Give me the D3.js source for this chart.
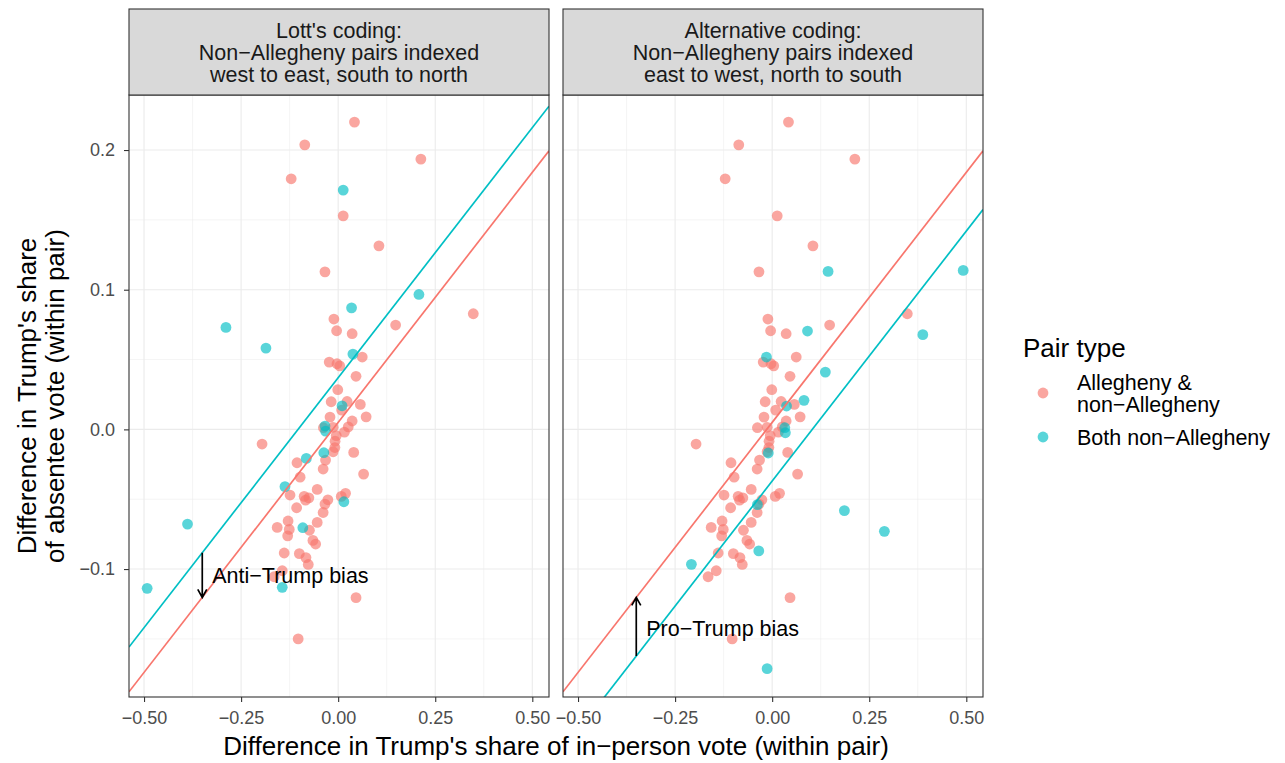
<!DOCTYPE html>
<html>
<head>
<meta charset="utf-8">
<script src="https://cdn.jsdelivr.net/npm/d3@7"></script>
<style>
  body { margin: 0; background: #fff; }
  svg { font-family: "Liberation Sans", Arial, sans-serif; }
</style>
</head>
<body>
<div id="chart"></div>
<script>
// Allegheny & non-Allegheny pairs (same in both codings)
var redX = [0.042, -0.086, 0.213, -0.121, 0.013, 0.105, -0.034, 0.348, -0.011, 0.148,
  -0.004, 0.036, 0.062, -0.023, -0.003, 0.004, 0.046, -0.001, -0.018, 0.023,
  0.057, 0.009, 0.072, -0.021, 0.036, 0.026, -0.013, -0.038, 0.016, -0.005,
  -0.008, -0.0085, -0.013, -0.196, 0.040, -0.0325, -0.106, -0.0387, 0.0655, -0.098,
  -0.054, -0.124, 0.019, 0.008, -0.0876, -0.0755, -0.084, -0.0265, -0.034, -0.107,
  -0.0387, -0.129, -0.054, -0.157, -0.126, -0.074, -0.130, -0.065, -0.058, -0.139,
  -0.100, -0.083, -0.077, -0.144, -0.165, 0.046, -0.103];
var redY = [0.220, 0.2037, 0.1935, 0.1794, 0.1529, 0.1314, 0.1128, 0.0828, 0.079, 0.0747,
  0.0706, 0.0685, 0.0518, 0.0482, 0.047, 0.0455, 0.038, 0.0284, 0.0198, 0.0200,
  0.0179, 0.0138, 0.009, 0.0088, 0.006, 0.0018, 0.0015, 0.0012, -0.002, -0.0045,
  -0.0085, -0.0130, -0.0160, -0.0105, -0.0165, -0.022, -0.0239, -0.0284, -0.032, -0.0342,
  -0.043, -0.047, -0.0458, -0.048, -0.048, -0.049, -0.0506, -0.0504, -0.0535, -0.0561,
  -0.0595, -0.0656, -0.0666, -0.0702, -0.0716, -0.0722, -0.0762, -0.0795, -0.0821, -0.0885,
  -0.089, -0.0918, -0.0967, -0.1012, -0.1055, -0.1205, -0.150];

// Both non-Allegheny pairs, Lott's coding (alternative coding flips the sign)
var cyanX = [0.013, 0.208, 0.0345, -0.289, -0.186, 0.038, 0.010, -0.034, -0.0325, -0.037,
  -0.082, -0.137, 0.0147, -0.091, -0.388, -0.144, -0.492];
var cyanY = [0.1713, 0.0966, 0.087, 0.073, 0.0582, 0.0539, 0.0169, 0.0024, -0.0012, -0.0167,
  -0.0208, -0.041, -0.0518, -0.0704, -0.0678, -0.1131, -0.1138];

var panelTitles = [
  ["Lott's coding:", "Non\u2212Allegheny pairs indexed", "west to east, south to north"],
  ["Alternative coding:", "Non\u2212Allegheny pairs indexed", "east to west, north to south"]
];
var fitSlope = 0.358;
var redIntercept = [0.005, 0.005];
var cyanIntercept = [0.037, -0.037];
var biasLabels = ["Anti\u2212Trump bias", "Pro\u2212Trump bias"];
var arrowAt = -0.35;

var xTicks = [-0.5, -0.25, 0, 0.25, 0.5];
var yTicks = [-0.1, 0, 0.1, 0.2];
var legendLabels = [["Allegheny &", "non\u2212Allegheny"], ["Both non\u2212Allegheny"]];

var red = "#F8766D", cyan = "#00BFC4";
var width = 1285, height = 763;
var panelTop = 95, panelBottom = 697, stripTop = 9;
var panelLefts = [129, 563], panelW = 420;

var svg = d3.select("#chart").append("svg")
  .attr("width", width).attr("height", height);

var yScale = d3.scaleLinear().domain([-0.1916, 0.2394]).range([panelBottom, panelTop]);
var fmtX = function(d) { return d3.format(".2f")(d).replace("-", "\u2212"); };
var fmtY = function(d) { return d3.format(".1f")(d).replace("-", "\u2212"); };

panelLefts.forEach(function(left, p) {
  var xScale = d3.scaleLinear().domain([-0.5387, 0.543]).range([left, left + panelW]);
  var g = svg.append("g");

  g.append("clipPath").attr("id", "clip" + p)
    .append("rect").attr("x", left).attr("y", panelTop)
    .attr("width", panelW).attr("height", panelBottom - panelTop);

  // minor grid
  var xMinor = [-0.375, -0.125, 0.125, 0.375];
  var yMinor = [-0.15, -0.05, 0.05, 0.15];
  g.selectAll(".xminor").data(xMinor).enter().append("line")
    .attr("x1", d => xScale(d)).attr("x2", d => xScale(d))
    .attr("y1", panelTop).attr("y2", panelBottom)
    .attr("stroke", "#EBEBEB").attr("stroke-width", 0.55);
  g.selectAll(".yminor").data(yMinor).enter().append("line")
    .attr("y1", d => yScale(d)).attr("y2", d => yScale(d))
    .attr("x1", left).attr("x2", left + panelW)
    .attr("stroke", "#EBEBEB").attr("stroke-width", 0.55);
  // major grid
  g.selectAll(".xmajor").data(xTicks).enter().append("line")
    .attr("x1", d => xScale(d)).attr("x2", d => xScale(d))
    .attr("y1", panelTop).attr("y2", panelBottom)
    .attr("stroke", "#EBEBEB").attr("stroke-width", 1.1);
  g.selectAll(".ymajor").data(yTicks).enter().append("line")
    .attr("y1", d => yScale(d)).attr("y2", d => yScale(d))
    .attr("x1", left).attr("x2", left + panelW)
    .attr("stroke", "#EBEBEB").attr("stroke-width", 1.1);

  // points
  var cx = p === 0 ? cyanX : cyanX.map(v => -v);
  var cy = p === 0 ? cyanY : cyanY.map(v => -v);
  var pts = redX.map((v, i) => ({x: v, y: redY[i], c: red}))
    .concat(cx.map((v, i) => ({x: v, y: cy[i], c: cyan})));
  g.selectAll(".pt").data(pts).enter().append("circle")
    .attr("cx", d => xScale(d.x)).attr("cy", d => yScale(d.y))
    .attr("r", 5.4).attr("fill", d => d.c).attr("fill-opacity", 0.65);

  // fitted lines
  var lineGen = d3.line().x(d => xScale(d[0])).y(d => yScale(d[1]));
  var xd = xScale.domain();
  [[redIntercept[p], red], [cyanIntercept[p], cyan]].forEach(function(l) {
    g.append("path")
      .attr("d", lineGen(xd.map(x => [x, l[0] + fitSlope * x])))
      .attr("stroke", l[1]).attr("stroke-width", 1.7).attr("fill", "none")
      .attr("clip-path", "url(#clip" + p + ")");
  });

  // bias arrow
  var yFrom = yScale(cyanIntercept[p] + fitSlope * arrowAt);
  var yTo = yScale(redIntercept[p] + fitSlope * arrowAt);
  var ax = xScale(arrowAt);
  var dir = yTo > yFrom ? 1 : -1;
  g.append("path")
    .attr("d", "M" + ax + "," + yFrom + "L" + ax + "," + yTo +
      "M" + (ax - 4.5) + "," + (yTo - dir * 8) + "L" + ax + "," + yTo + "L" + (ax + 4.5) + "," + (yTo - dir * 8))
    .attr("stroke", "#000").attr("stroke-width", 1.7).attr("fill", "none");
  g.append("text")
    .attr("x", ax + 10).attr("y", p === 0 ? (yFrom + yTo) / 2 : yFrom - 28)
    .attr("dy", "0.35em").attr("font-size", 21.5).attr("fill", "#000")
    .text(biasLabels[p]);

  // panel border
  g.append("rect").attr("x", left).attr("y", panelTop)
    .attr("width", panelW).attr("height", panelBottom - panelTop)
    .attr("fill", "none").attr("stroke", "#333333").attr("stroke-width", 1.1);

  // strip
  g.append("rect").attr("x", left).attr("y", stripTop)
    .attr("width", panelW).attr("height", panelTop - stripTop)
    .attr("fill", "#D9D9D9").attr("stroke", "#333333").attr("stroke-width", 1.1);
  g.selectAll(".strip").data(panelTitles[p]).enter().append("text")
    .attr("x", left + panelW / 2).attr("y", (d, i) => 30 + i * 22)
    .attr("dy", "0.35em").attr("text-anchor", "middle")
    .attr("font-size", 21.5).attr("fill", "#1A1A1A")
    .text(d => d);

  // x axis
  var xAxis = g.append("g").attr("transform", "translate(0," + panelBottom + ")")
    .call(d3.axisBottom(xScale).tickValues(xTicks).tickFormat(fmtX).tickSize(5).tickPadding(9.5));
  xAxis.select(".domain").remove();
  xAxis.selectAll("line").attr("stroke", "#333333").attr("stroke-width", 1.1);
  xAxis.selectAll("text").attr("font-size", 18).attr("fill", "#4D4D4D")
    .attr("font-family", "Liberation Sans, Arial, sans-serif");

  if (p === 0) {
    var yAxis = g.append("g").attr("transform", "translate(" + left + ",0)")
      .call(d3.axisLeft(yScale).tickValues(yTicks).tickFormat(fmtY).tickSize(5).tickPadding(9));
    yAxis.select(".domain").remove();
    yAxis.selectAll("line").attr("stroke", "#333333").attr("stroke-width", 1.1);
    yAxis.selectAll("text").attr("font-size", 18).attr("fill", "#4D4D4D")
      .attr("font-family", "Liberation Sans, Arial, sans-serif");
  }
});

// axis titles
svg.append("text")
  .attr("x", (panelLefts[0] + panelLefts[1] + panelW) / 2).attr("y", 746)
  .attr("dy", "0.35em").attr("text-anchor", "middle")
  .attr("font-size", 26).attr("fill", "#000")
  .text("Difference in Trump's share of in\u2212person vote (within pair)");
svg.append("text")
  .attr("transform", "translate(0," + ((panelTop + panelBottom) / 2) + ") rotate(-90)")
  .attr("text-anchor", "middle").attr("font-size", 26).attr("fill", "#000")
  .selectAll("tspan").data(["Difference in Trump's share", "of absentee vote (within pair)"]).enter()
  .append("tspan").attr("x", 0).attr("y", (d, i) => 36 + i * 28).text(d => d);

// legend
var legend = svg.append("g");
legend.append("text").attr("x", 1023).attr("y", 348).attr("dy", "0.35em")
  .attr("font-size", 26).attr("fill", "#000").text("Pair type");
var keyY = [393, 437];
[red, cyan].forEach(function(c, i) {
  legend.append("circle").attr("cx", 1043).attr("cy", keyY[i]).attr("r", 5.4)
    .attr("fill", c).attr("fill-opacity", 0.65);
  var lines = legendLabels[i];
  legend.selectAll(".lab" + i).data(lines).enter().append("text")
    .attr("x", 1077)
    .attr("y", (d, j) => keyY[i] + (j - (lines.length - 1) / 2) * 22)
    .attr("dy", "0.35em").attr("font-size", 21.5).attr("fill", "#000")
    .text(d => d);
});
</script>
</body>
</html>
